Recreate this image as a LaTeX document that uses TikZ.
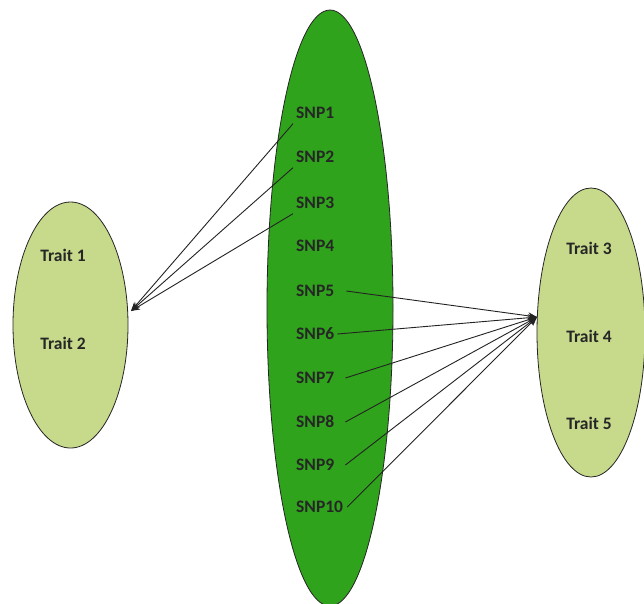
\documentclass[tikz,border=0pt]{standalone}
\usepackage{fontspec}
\setmainfont{Carlito}
\usetikzlibrary{shapes.geometric,arrows.meta}
\definecolor{darkgreen}{RGB}{48,163,28}
\definecolor{lightgreen}{RGB}{199,217,139}
\definecolor{linegray}{RGB}{35,35,35}
\begin{document}
\begin{tikzpicture}[x=1pt,y=-1pt,
  blob/.style={ellipse,draw=black!85,line width=0.8pt,inner sep=0pt},
  snp/.style={anchor=west,font=\bfseries\fontsize{17.5}{17.5}\selectfont,text=black!85,inner sep=0pt},
  trait/.style={font=\bfseries\fontsize{17.5}{17.5}\selectfont,text=black!85,inner sep=0pt},
  link/.style={draw=linegray,line width=0.9pt},
  tip/.style={-{Stealth[length=9pt,width=7pt]}}]
\useasboundingbox (0,0) rectangle (644,603);
\clip (0,0) rectangle (644,603);
\fill[white] (0,0) rectangle (644,603);
% ellipses
\node[blob,fill=darkgreen,minimum width=126pt,minimum height=596pt] (mid) at (330,308) {};
\node[blob,fill=lightgreen,minimum width=115pt,minimum height=246pt] (left) at (70.5,325) {};
\node[blob,fill=lightgreen,minimum width=108pt,minimum height=289pt] (right) at (591,332.5) {};
% labels
\node[snp] (s1) at (296,113) {SNP1};
\node[snp] (s2) at (296,157) {SNP2};
\node[snp] (s3) at (296,203) {SNP3};
\node[snp] (s4) at (296,246) {SNP4};
\node[snp] (s5) at (296,291) {SNP5};
\node[snp] (s6) at (296,334) {SNP6};
\node[snp] (s7) at (296,378) {SNP7};
\node[snp] (s8) at (296,422) {SNP8};
\node[snp] (s9) at (296,465) {SNP9};
\node[snp] (s10) at (296,507) {SNP10};
\node[trait] (t1) at (63,255) {Trait 1};
\node[trait] (t2) at (63,343) {Trait 2};
\node[trait] (t3) at (589,248) {Trait 3};
\node[trait] (t4) at (589,336) {Trait 4};
\node[trait] (t5) at (589,423) {Trait 5};
% arrow targets
\coordinate (tipL) at (131,311);
\coordinate (tipR) at (537,317);
% left connectors
\draw[link,tip] ([shift={(-3pt,-5pt)}]s1.base west) -- (tipL);
\draw[link,tip] ([shift={(-3pt,-5pt)}]s2.base west) -- (tipL);
\draw[link,tip] ([shift={(-3pt,-5pt)}]s3.base west) -- (tipL);
% right connectors
\draw[link,tip] ([xshift=12pt]s5.east) -- (tipR);
\draw[link,tip] ([xshift=3pt]s6.east) -- (tipR);
\draw[link,tip] ([xshift=11pt]s7.east) -- (tipR);
\draw[link,tip] ([xshift=11pt]s8.east) -- (tipR);
\draw[link,tip] ([xshift=11pt]s9.east) -- (tipR);
\draw[link,tip] ([xshift=4pt]s10.east) -- (tipR);
\end{tikzpicture}
\end{document}
